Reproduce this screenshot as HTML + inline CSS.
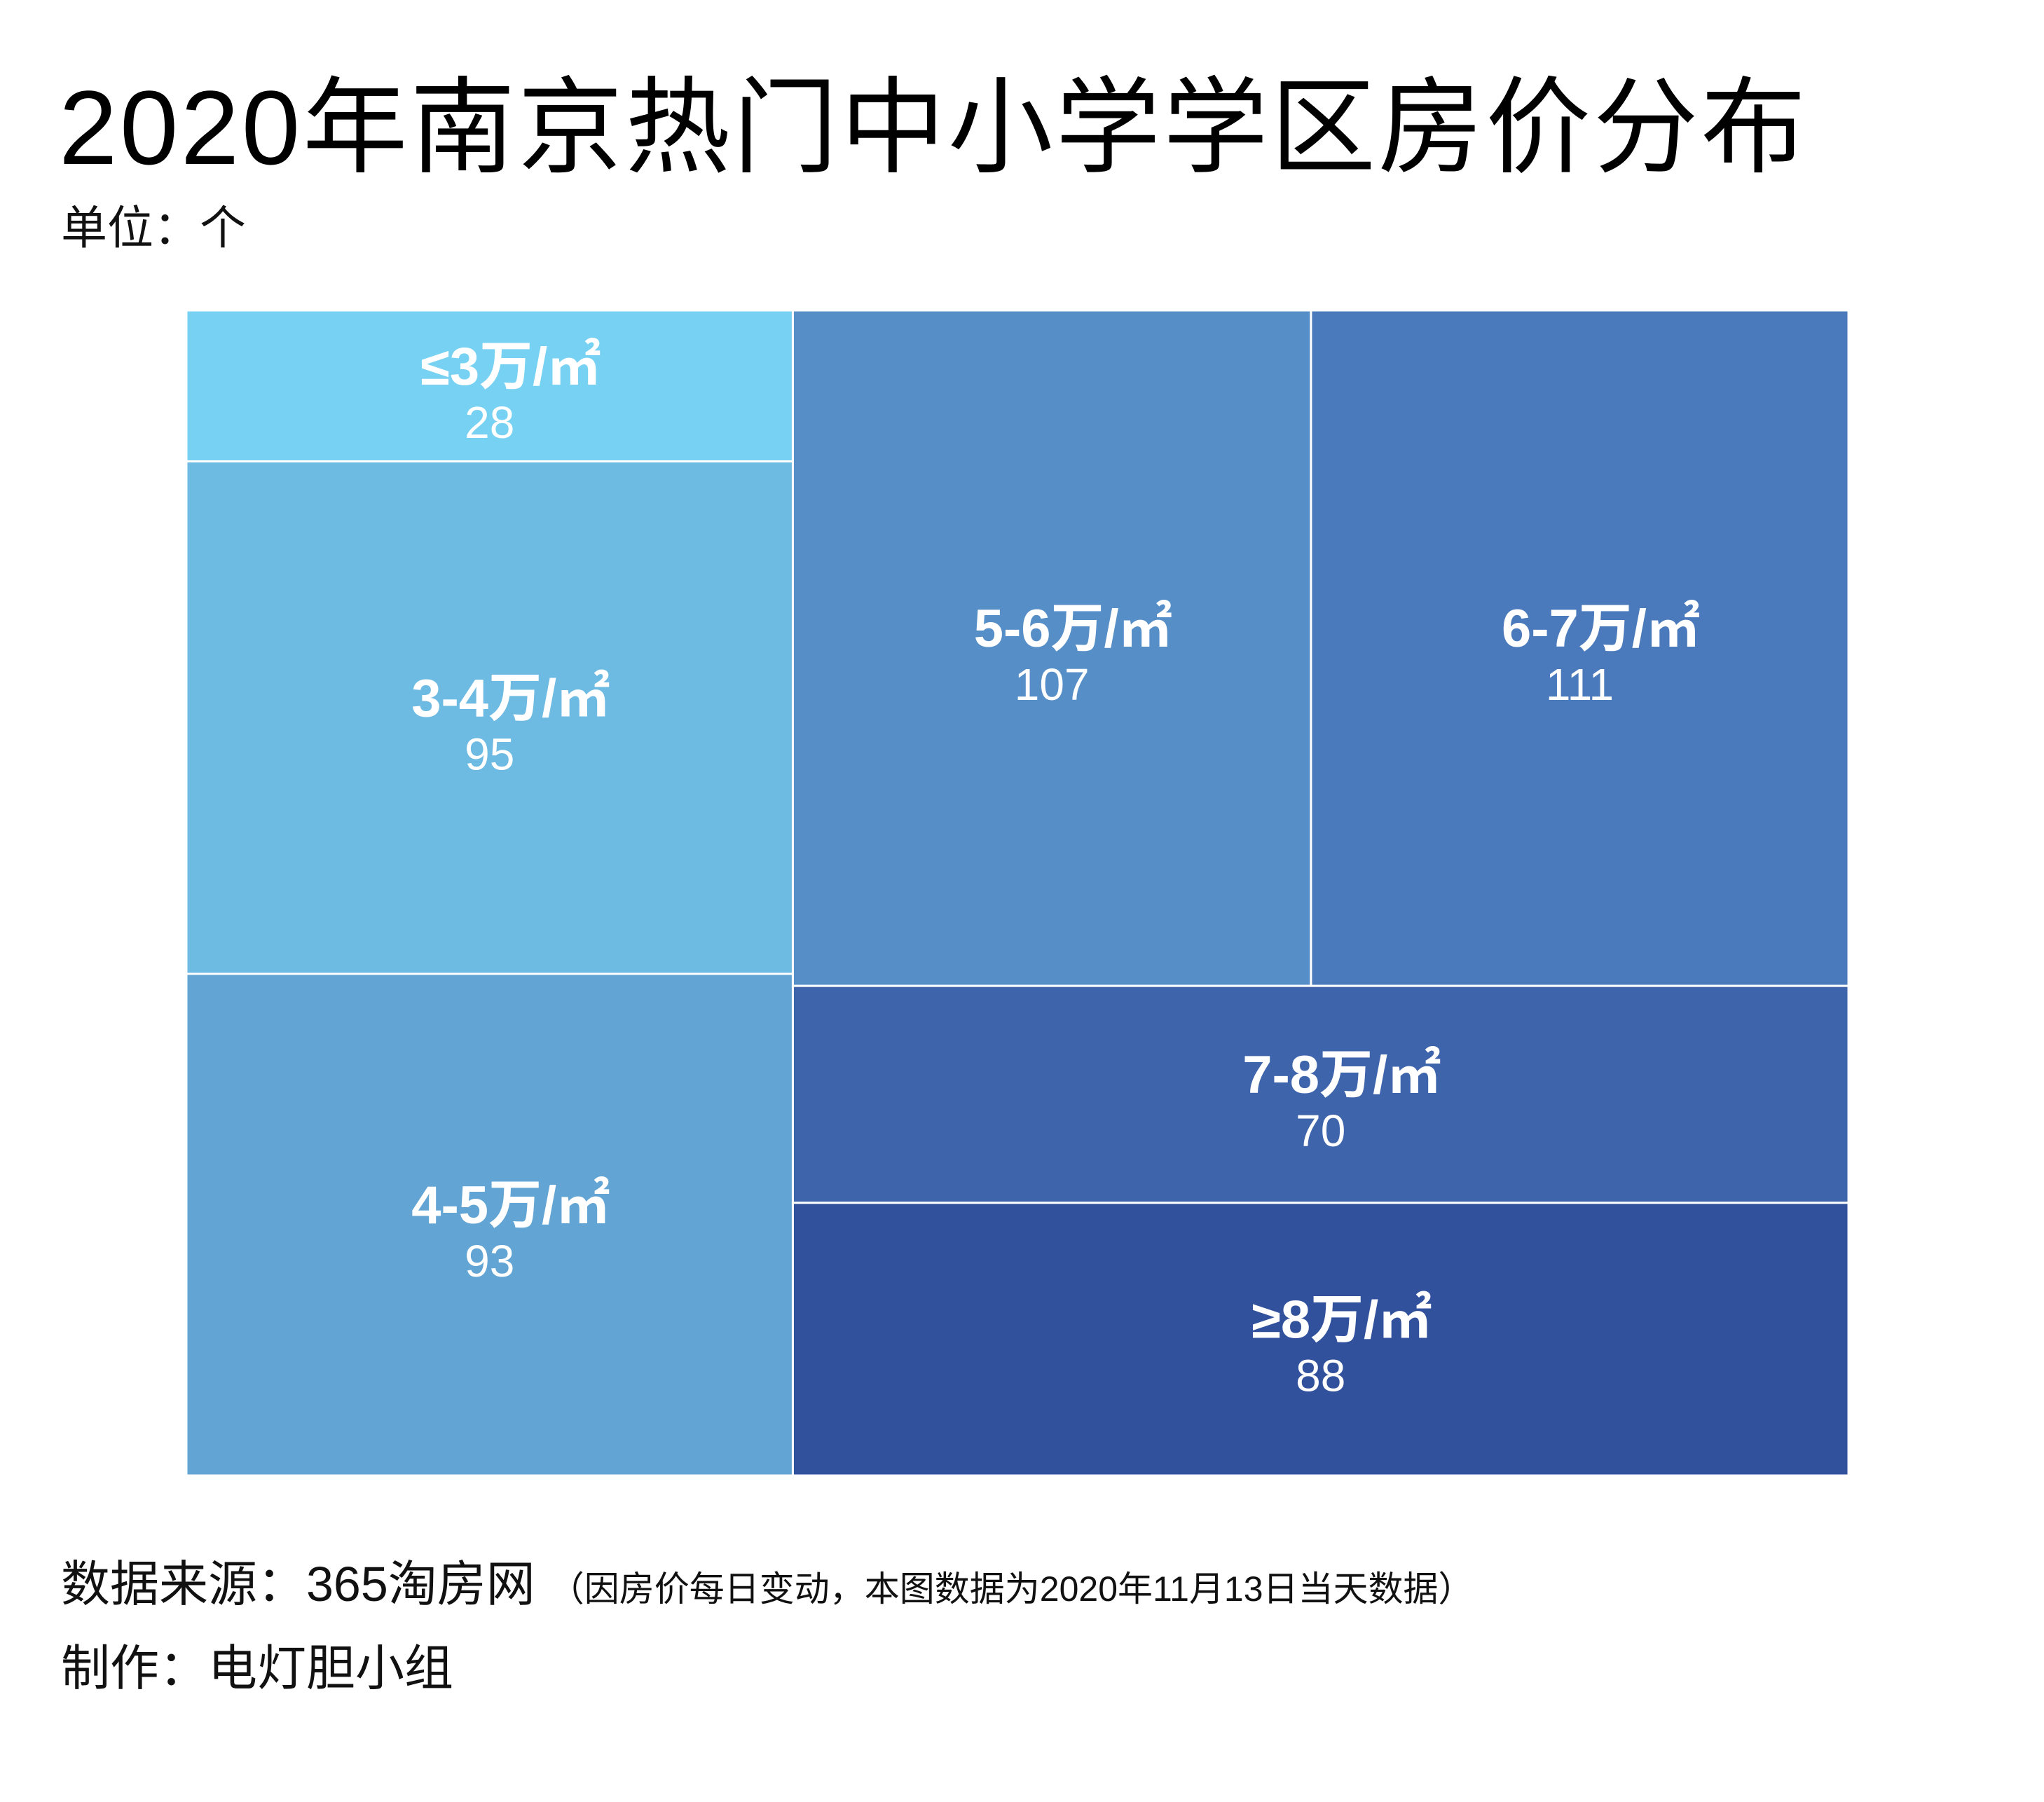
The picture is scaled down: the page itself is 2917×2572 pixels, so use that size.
<!DOCTYPE html>
<html><head><meta charset="utf-8"><style>
html,body{margin:0;padding:0;background:#fff;}
body{width:2917px;height:2567px;overflow:hidden;font-family:"Liberation Sans","Noto Sans CJK SC",sans-serif;}
</style></head><body>
<svg id="chart" width="2917" height="2567" viewBox="0 0 2917 2567" xmlns="http://www.w3.org/2000/svg" font-family="Liberation Sans, Noto Sans CJK SC, sans-serif">
<text x="84" y="234" font-size="150" letter-spacing="3.5" fill="#000">2020年南京热门中小学学区房价分布</text>
<text x="87" y="348" font-size="66" fill="#111">单位：个</text>
<g id="cells"></g>
<text x="87" y="2285" font-size="70" fill="#111">数据来源：365淘房网<tspan font-size="50" dx="20">（因房价每日变动，本图数据为2020年11月13日当天数据）</tspan></text>
<text x="87" y="2405" font-size="70" fill="#111">制作：电灯胆小组</text>
</svg>
<script>
const categories = ["≤3万/㎡","3-4万/㎡","4-5万/㎡","5-6万/㎡","6-7万/㎡","7-8万/㎡","≥8万/㎡"];
const values = [28,95,93,107,111,70,88];
const colors = ["#76D1F2","#6DBAE3","#62A5D4","#568EC7","#4A7ABB","#3E64AB","#31519C"];

const X0=266,X1=2638,Y0=443,Y1=2106;
const W=X1-X0,H=Y1-Y0;
const total=values.reduce((a,b)=>a+b,0);
const rects=[];
const leftSum=values[0]+values[1]+values[2];
const xs=X0+W*leftSum/total;
let y=Y0;
for(let i=0;i<3;i++){const h=H*values[i]/leftSum;rects.push([X0,y,xs-X0,h]);y+=h;}
const rightSum=total-leftSum;
const rw=X1-xs;
const topSum=values[3]+values[4];
const th=H*topSum/rightSum;
let x=xs;
for(let i=3;i<5;i++){const w=rw*values[i]/topSum;rects.push([x,Y0,w,th]);x+=w;}
y=Y0+th;
const botSum=values[5]+values[6];
for(let i=5;i<7;i++){const h=(Y1-Y0-th)*values[i]/botSum;rects.push([xs,y,rw,h]);y+=h;}

const g=document.getElementById('cells');
const NS="http://www.w3.org/2000/svg";
rects.forEach((r,i)=>{
  const rect=document.createElementNS(NS,'rect');
  rect.setAttribute('x',r[0]);rect.setAttribute('y',r[1]);
  rect.setAttribute('width',r[2]);rect.setAttribute('height',r[3]);
  rect.setAttribute('fill',colors[i]);rect.setAttribute('stroke','#fff');rect.setAttribute('stroke-width','3');
  
  
  g.appendChild(rect);
  const cx=r[0]+r[2]/2, cy=r[1]+r[3]/2;
  const t=document.createElementNS(NS,'text');
  t.setAttribute('x',cx+30);t.setAttribute('y',cy-2);
  t.setAttribute('text-anchor','middle');t.setAttribute('font-size','76');
  t.setAttribute('font-weight','bold');t.setAttribute('fill','#fff');
  t.textContent=categories[i];
  
  
  g.appendChild(t);
  const v=document.createElementNS(NS,'text');
  v.setAttribute('x',cx);v.setAttribute('y',cy+74);
  v.setAttribute('text-anchor','middle');v.setAttribute('font-size','64');
  v.setAttribute('fill','#fff');
  v.textContent=values[i];
  
  
  g.appendChild(v);
});
</script>
</body></html>
